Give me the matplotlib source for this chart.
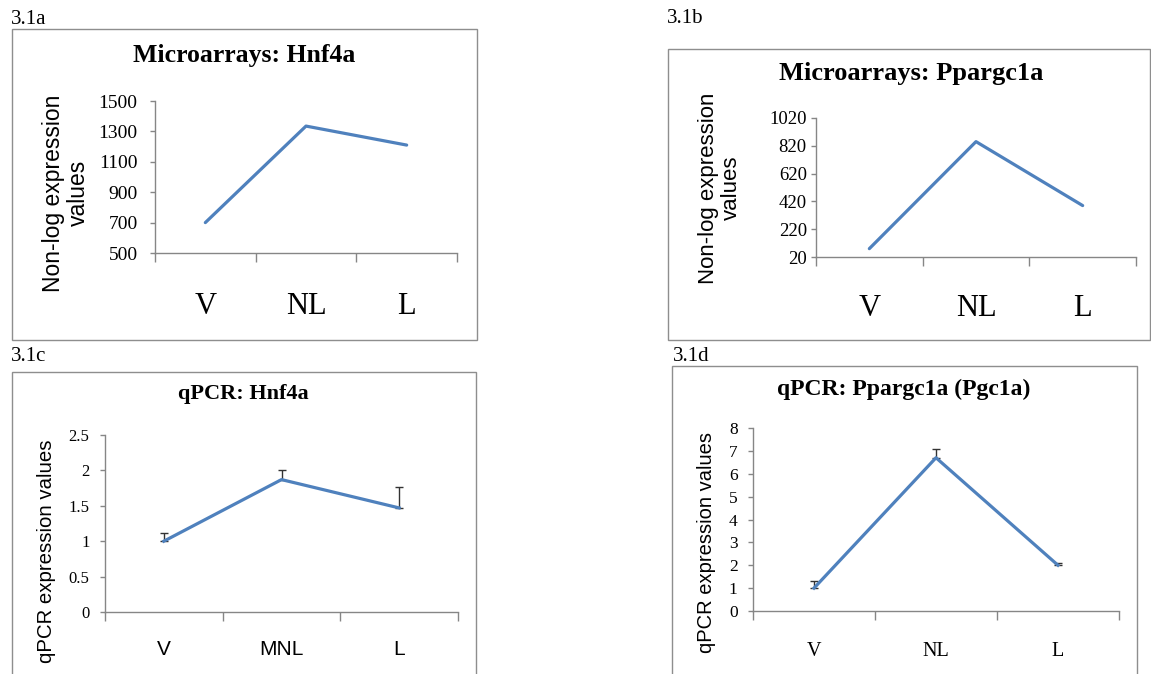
import matplotlib
matplotlib.use("Agg")
import matplotlib.pyplot as plt
from matplotlib.patches import Rectangle

# expression data
cats_array = ["V", "NL", "L"]
hnf4a_array = [700, 1335, 1210]
ppargc1a_array = [80, 850, 390]

cats_qpcr_c = ["V", "MNL", "L"]
hnf4a_qpcr = [1.0, 1.87, 1.47]
hnf4a_qpcr_err = [0.12, 0.13, 0.29]

cats_qpcr_d = ["V", "NL", "L"]
ppargc1a_qpcr = [1.0, 6.7, 2.0]
ppargc1a_qpcr_err = [0.3, 0.38, 0.1]

W, H = 1151, 674
SERIF = "Liberation Serif"
SANS = "Liberation Sans"
LINE = "#4F81BD"
GRID = "#868686"


def box(x0, y0, x1, y1):
    return [x0 / W, 1 - y1 / H, (x1 - x0) / W, (y1 - y0) / H]


def frame(fig, x0, y0, x1, y1):
    fig.add_artist(Rectangle((x0 / W, 1 - y1 / H), (x1 - x0) / W, (y1 - y0) / H,
                             transform=fig.transFigure, fill=False,
                             ec="#8e8e8e", lw=1.0))


def panel(fig, rect, cats, vals, yticks, title, tfs, tpos, ylabel, lfs, lpos,
          cfs, cpad, cfont, yfs, ypad, err=None):
    ax = fig.add_axes(box(*rect))
    x = [i + 0.5 for i in range(len(cats))]
    if err is None:
        ax.plot(x, vals, color=LINE, lw=2.3, solid_capstyle="round")
    else:
        ax.errorbar(x, vals, yerr=[[0] * len(err), err], color=LINE, lw=2.3,
                    ecolor="#333333", elinewidth=1.0, capsize=3, capthick=1.0)
    ax.set_xlim(0, len(cats))
    ax.set_ylim(yticks[0], yticks[-1])
    ax.set_yticks(yticks)
    ax.set_yticklabels([f"{t:g}" for t in yticks], fontfamily=SERIF, fontsize=yfs)
    ax.set_xticks(range(len(cats) + 1))
    ax.set_xticklabels([])
    ax.set_xticks(x, minor=True)
    ax.set_xticklabels(cats, minor=True, fontfamily=cfont, fontsize=cfs)
    ax.tick_params(axis="x", which="major", direction="out", length=6.5,
                   color=GRID, width=1)
    ax.tick_params(axis="x", which="minor", length=0, pad=cpad)
    ax.tick_params(axis="y", direction="out", length=3.6, color=GRID, width=1,
                   pad=ypad)
    for s in ("top", "right"):
        ax.spines[s].set_visible(False)
    for s in ("left", "bottom"):
        ax.spines[s].set_color(GRID)
        ax.spines[s].set_linewidth(1)
    ax.set_title(title, fontfamily=SERIF, fontweight="bold", fontsize=tfs,
                 x=tpos[0], y=tpos[1], va="center")
    ax.set_ylabel(ylabel, fontfamily=SANS, fontsize=lfs, multialignment="center",
                  linespacing=1.1)
    ax.yaxis.label.set_va("center")
    ax.yaxis.set_label_coords(*lpos)
    ax.patch.set_alpha(0)
    return ax


fig = plt.figure(figsize=(W / 100, H / 100), dpi=100)

frame(fig, 12, 29, 477, 340)
frame(fig, 668, 49, 1150, 340)
frame(fig, 12, 372, 476, 690)
frame(fig, 672, 366, 1137, 690)

panel(fig, (155, 101, 457, 253), cats_array, hnf4a_array,
      [500, 700, 900, 1100, 1300, 1500], "Microarrays: Hnf4a", 18.5,
      (0.295, 1.243), "Non-log expression\nvalues", 16.5, (-0.295, 0.395),
      22, 28, SERIF, 14, 9)

panel(fig, (816, 118, 1136, 257), cats_array, ppargc1a_array,
      [20, 220, 420, 620, 820, 1020], "Microarrays: Ppargc1a", 19,
      (0.297, 1.259), "Non-log expression\nvalues", 16, (-0.30, 0.496),
      22, 27, SERIF, 13.5, 3)

panel(fig, (105, 435, 458, 612), cats_qpcr_c, hnf4a_qpcr,
      [0, 0.5, 1, 1.5, 2, 2.5], "qPCR: Hnf4a", 16,
      (0.391, 1.186), "qPCR expression values", 14.7, (-0.167, 0.345),
      15, 20, SANS, 12, 7.5, err=hnf4a_qpcr_err)

panel(fig, (753, 428, 1119, 611), cats_qpcr_d, ppargc1a_qpcr,
      list(range(0, 9)), "qPCR: Ppargc1a (Pgc1a)", 17,
      (0.413, 1.164), "qPCR expression values", 14.5, (-0.126, 0.372),
      14.5, 22, SERIF, 12.5, 7.5, err=ppargc1a_qpcr_err)

for txt, px, py in [("3.1a", 11, 24), ("3.1b", 667, 23),
                    ("3.1c", 11, 361), ("3.1d", 673, 361)]:
    fig.text(px / W, 1 - py / H, txt, fontfamily=SERIF, fontsize=15,
             ha="left", va="baseline")

fig.savefig("out.png", dpi=100)
